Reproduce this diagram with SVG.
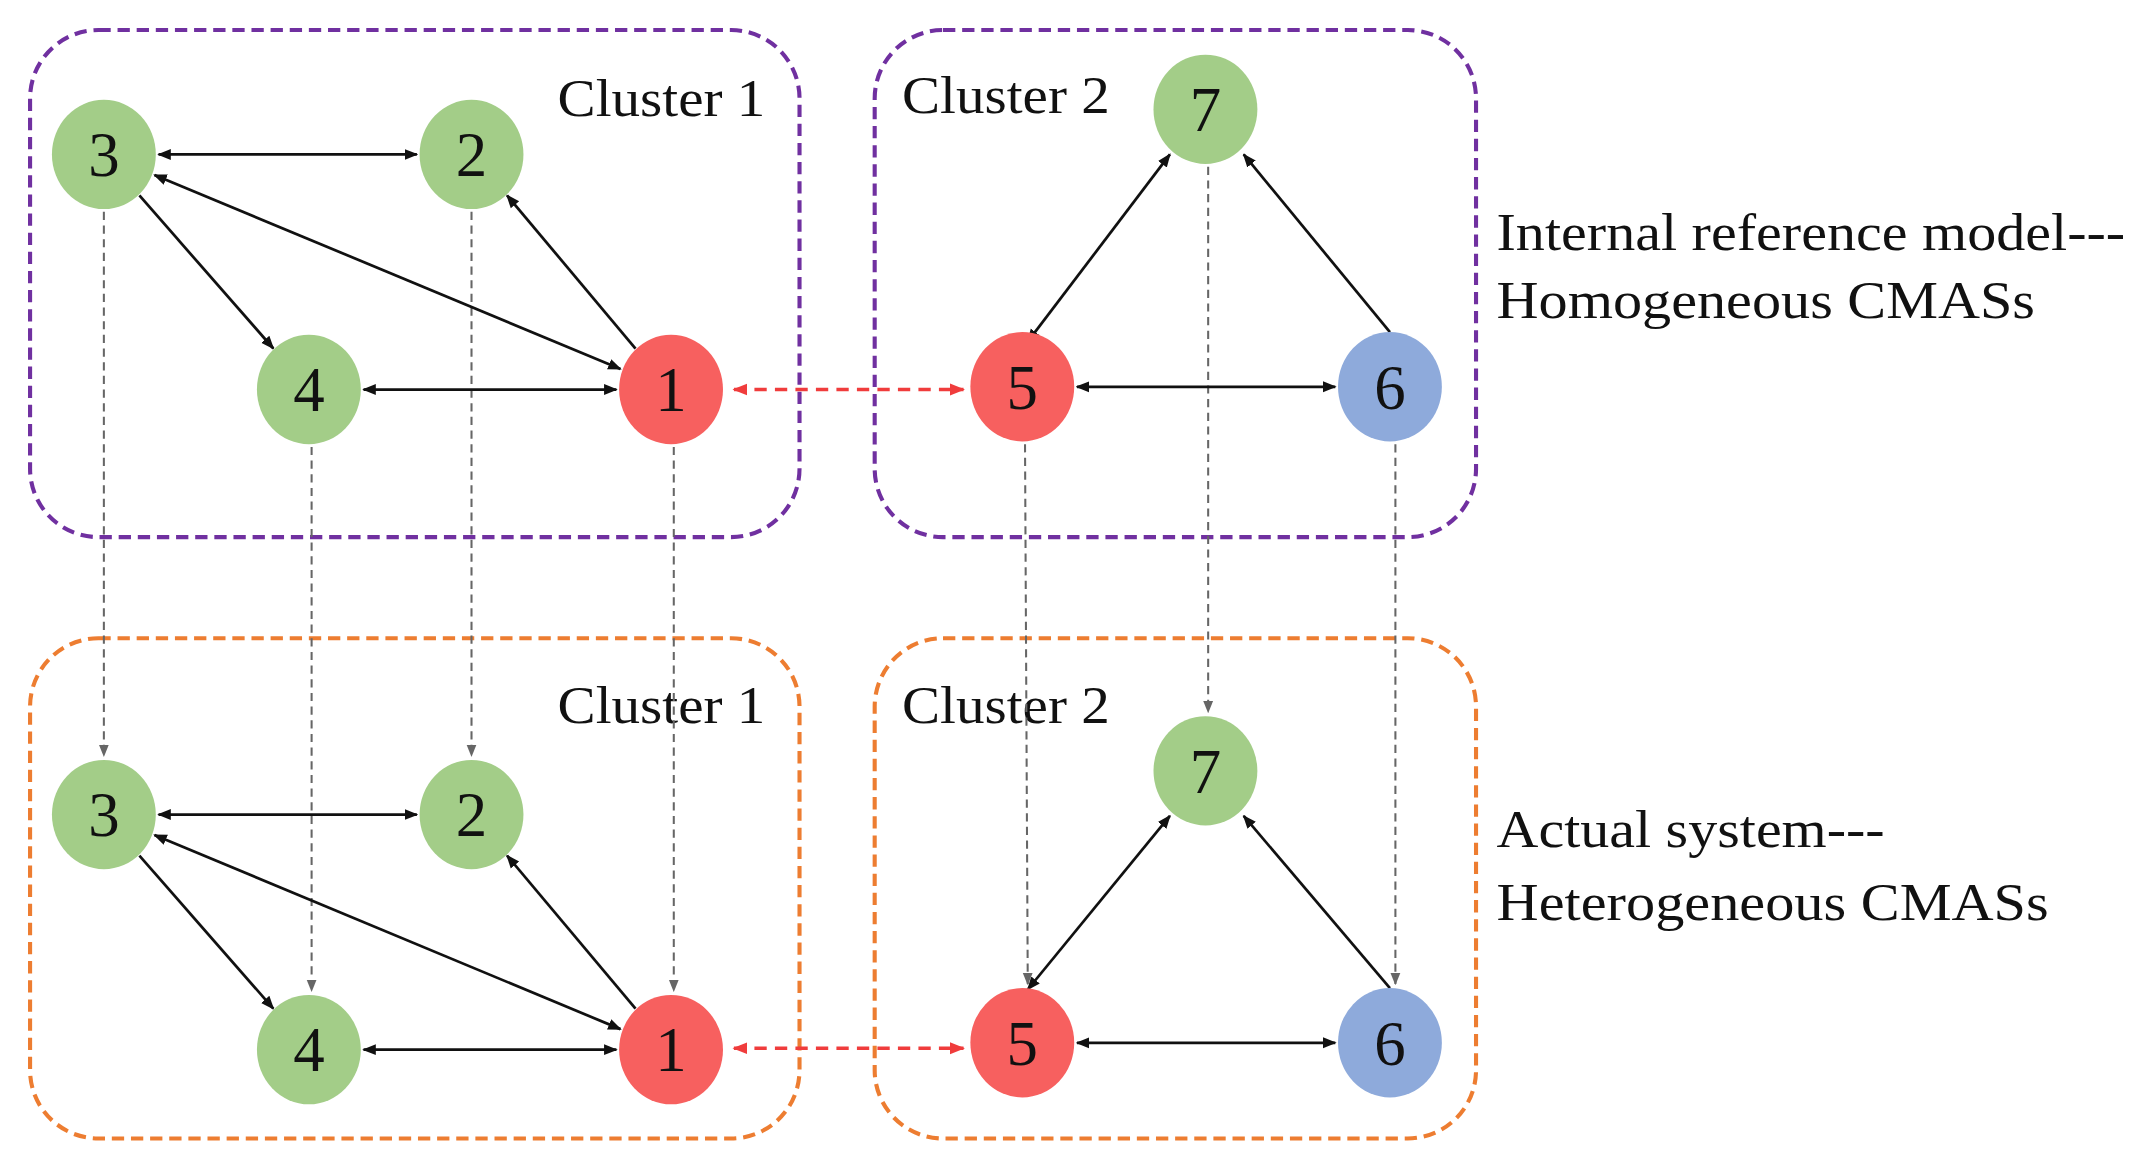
<svg xmlns="http://www.w3.org/2000/svg" width="2132" height="1161" viewBox="0 0 2132 1161">
<style>
.g{fill:#a3cd88}.r{fill:#f7605f}.b{fill:#8eaadb}
.n{font-family:"Liberation Serif","Times New Roman",Times,serif;font-size:46px;fill:#111;text-anchor:middle}
.t{font-family:"Liberation Serif","Times New Roman",Times,serif;font-size:38px;fill:#111}
.pb{fill:none;stroke:#7030a0;stroke-width:3;stroke-dasharray:9 5}
.ob{fill:none;stroke:#ed7d31;stroke-width:3;stroke-dasharray:9 5}
.k{stroke:#111;stroke-width:2;fill:none}
.gd{stroke:#666;stroke-width:1.5;stroke-dasharray:6 4;fill:none}
.rd{stroke:#f03c3c;stroke-width:2.5;stroke-dasharray:9 6;fill:none}
</style>
<defs>
<marker id="ak" viewBox="0 0 10 10" refX="9" refY="5" markerWidth="10" markerHeight="10" markerUnits="userSpaceOnUse" orient="auto-start-reverse"><path d="M0,1 L10,5 L0,9 Z" fill="#111"/></marker>
<marker id="ag" viewBox="0 0 10 10" refX="9" refY="5" markerWidth="9" markerHeight="9" markerUnits="userSpaceOnUse" orient="auto-start-reverse"><path d="M0,1 L10,5 L0,9 Z" fill="#666"/></marker>
<marker id="ar" viewBox="0 0 10 10" refX="9" refY="5" markerWidth="11" markerHeight="11" markerUnits="userSpaceOnUse" orient="auto-start-reverse"><path d="M0,1 L10,5 L0,9 Z" fill="#f03c3c"/></marker>
</defs>
<rect width="2132" height="1161" fill="#fff"/>
<g transform="scale(1.3667)">
<g id="boxes">
<rect class="pb" x="22" y="22" width="563" height="371" rx="50"/>
<rect class="pb" x="640" y="22" width="440" height="371" rx="50"/>
<rect class="ob" x="22" y="467" width="563" height="366" rx="50"/>
<rect class="ob" x="640" y="467" width="440" height="366" rx="50"/>
<text class="t" x="408" y="85" textLength="152" lengthAdjust="spacingAndGlyphs">Cluster 1</text>
<text class="t" x="660" y="83" textLength="152" lengthAdjust="spacingAndGlyphs">Cluster 2</text>
<text class="t" x="408" y="529" textLength="152" lengthAdjust="spacingAndGlyphs">Cluster 1</text>
<text class="t" x="660" y="529" textLength="152" lengthAdjust="spacingAndGlyphs">Cluster 2</text>
<text class="t" x="1095" y="183" textLength="460" lengthAdjust="spacingAndGlyphs">Internal reference model---</text>
<text class="t" x="1095" y="233" textLength="394" lengthAdjust="spacingAndGlyphs">Homogeneous CMASs</text>
<text class="t" x="1095" y="620" textLength="284" lengthAdjust="spacingAndGlyphs">Actual system---</text>
<text class="t" x="1095" y="673" textLength="404" lengthAdjust="spacingAndGlyphs">Heterogeneous CMASs</text>
</g>
<g id="connectors">
<line class="gd" x1="76" y1="155" x2="76" y2="553" marker-end="url(#ag)"/>
<line class="gd" x1="345" y1="155" x2="345" y2="553" marker-end="url(#ag)"/>
<line class="gd" x1="228" y1="327" x2="228" y2="725" marker-end="url(#ag)"/>
<line class="gd" x1="493" y1="327" x2="493" y2="725" marker-end="url(#ag)"/>
<line class="gd" x1="750" y1="325" x2="752" y2="720" marker-end="url(#ag)"/>
<line class="gd" x1="884" y1="122" x2="884" y2="521" marker-end="url(#ag)"/>
<line class="gd" x1="1021" y1="325" x2="1021" y2="720" marker-end="url(#ag)"/>
<line class="rd" x1="537" y1="285" x2="705" y2="285" marker-start="url(#ar)" marker-end="url(#ar)"/>
<line class="rd" x1="537" y1="767" x2="705" y2="767" marker-start="url(#ar)" marker-end="url(#ar)"/>
<g id="top-edges">
<line class="k" x1="116" y1="113" x2="305" y2="113" marker-start="url(#ak)" marker-end="url(#ak)"/>
<line class="k" x1="113" y1="128" x2="454" y2="270" marker-start="url(#ak)" marker-end="url(#ak)"/>
<line class="k" x1="102" y1="143" x2="200" y2="255" marker-end="url(#ak)"/>
<line class="k" x1="465" y1="255" x2="371" y2="143" marker-end="url(#ak)"/>
<line class="k" x1="266" y1="285" x2="451" y2="285" marker-start="url(#ak)" marker-end="url(#ak)"/>
<line class="k" x1="856" y1="113" x2="752" y2="250" marker-start="url(#ak)" marker-end="url(#ak)"/>
<line class="k" x1="1017" y1="243" x2="910" y2="113" marker-end="url(#ak)"/>
<line class="k" x1="788" y1="283" x2="977" y2="283" marker-start="url(#ak)" marker-end="url(#ak)"/>
</g>
<g id="bottom-edges">
<line class="k" x1="116" y1="596" x2="305" y2="596" marker-start="url(#ak)" marker-end="url(#ak)"/>
<line class="k" x1="113" y1="611" x2="454" y2="753" marker-start="url(#ak)" marker-end="url(#ak)"/>
<line class="k" x1="102" y1="626" x2="200" y2="738" marker-end="url(#ak)"/>
<line class="k" x1="465" y1="738" x2="371" y2="626" marker-end="url(#ak)"/>
<line class="k" x1="266" y1="768" x2="451" y2="768" marker-start="url(#ak)" marker-end="url(#ak)"/>
<line class="k" x1="856" y1="597" x2="752" y2="724" marker-start="url(#ak)" marker-end="url(#ak)"/>
<line class="k" x1="1017" y1="723" x2="910" y2="597" marker-end="url(#ak)"/>
<line class="k" x1="788" y1="763" x2="977" y2="763" marker-start="url(#ak)" marker-end="url(#ak)"/>
</g>
</g>
<g id="n3t"><ellipse class="g" cx="76" cy="113" rx="38" ry="40"/><text class="n" x="76" y="129">3</text></g>
<g id="n2t"><ellipse class="g" cx="345" cy="113" rx="38" ry="40"/><text class="n" x="345" y="129">2</text></g>
<g id="n4t"><ellipse class="g" cx="226" cy="285" rx="38" ry="40"/><text class="n" x="226" y="301">4</text></g>
<g id="n1t"><ellipse class="r" cx="491" cy="285" rx="38" ry="40"/><text class="n" x="491" y="301">1</text></g>
<g id="n7t"><ellipse class="g" cx="882" cy="80" rx="38" ry="40"/><text class="n" x="882" y="96">7</text></g>
<g id="n5t"><ellipse class="r" cx="748" cy="283" rx="38" ry="40"/><text class="n" x="748" y="299">5</text></g>
<g id="n6t"><ellipse class="b" cx="1017" cy="283" rx="38" ry="40"/><text class="n" x="1017" y="299">6</text></g>
<g id="n3b"><ellipse class="g" cx="76" cy="596" rx="38" ry="40"/><text class="n" x="76" y="612">3</text></g>
<g id="n2b"><ellipse class="g" cx="345" cy="596" rx="38" ry="40"/><text class="n" x="345" y="612">2</text></g>
<g id="n4b"><ellipse class="g" cx="226" cy="768" rx="38" ry="40"/><text class="n" x="226" y="784">4</text></g>
<g id="n1b"><ellipse class="r" cx="491" cy="768" rx="38" ry="40"/><text class="n" x="491" y="784">1</text></g>
<g id="n7b"><ellipse class="g" cx="882" cy="564" rx="38" ry="40"/><text class="n" x="882" y="580">7</text></g>
<g id="n5b"><ellipse class="r" cx="748" cy="763" rx="38" ry="40"/><text class="n" x="748" y="779">5</text></g>
<g id="n6b"><ellipse class="b" cx="1017" cy="763" rx="38" ry="40"/><text class="n" x="1017" y="779">6</text></g>
</g>
</svg>
